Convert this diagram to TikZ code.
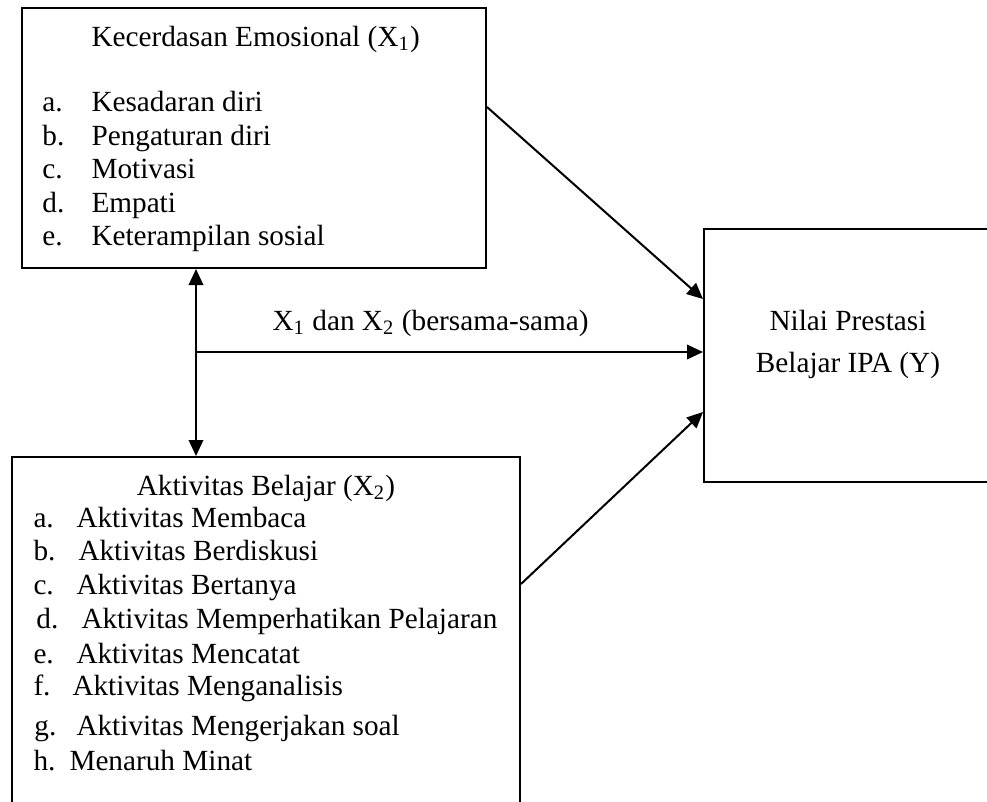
\documentclass[tikz,border=0pt]{standalone}
\usepackage{fontspec}
\setmainfont{Liberation Serif}
\usetikzlibrary{arrows.meta,calc}
\begin{document}
\begin{tikzpicture}[x=0.4pt,y=-0.4pt,
  box/.style={draw,line width=0.8pt,rectangle,inner sep=0pt},
  txt/.style={anchor=base west,inner sep=0pt,font=\fontsize{11.7}{14}\selectfont},
  ctxt/.style={anchor=base,inner sep=0pt,font=\fontsize{11.7}{14}\selectfont},
  conn/.style={line width=0.8pt,-{Triangle[length=6.4pt,width=5.8pt]}},
  dconn/.style={line width=0.8pt,{Triangle[length=6.4pt,width=5.8pt]}-{Triangle[length=6.4pt,width=5.8pt]}}]
\useasboundingbox (0,0) rectangle (987,801);
\clip (0,0) rectangle (987,801);
% boxes
\node[box,minimum width=185.6pt,minimum height=104pt] (top) at (254,138) {};
\node[box,minimum width=115.2pt,minimum height=101.2pt] (right) at (848,355.5) {};
\node[box,minimum width=203.2pt,minimum height=177.2pt] (bot) at (266,678.5) {};
% top box text
\node[txt] (t0) at (91,46) {Kecerdasan Emosional (X\textsubscript{1})};
\node[txt] (ta) at (42,111) {a.};
\node[txt] (tat) at (91,111) {Kesadaran diri};
\node[txt] (tb) at (42,145) {b.};
\node[txt] (tbt) at (91,145) {Pengaturan diri};
\node[txt] (tc) at (42,178) {c.};
\node[txt] (tct) at (91,178) {Motivasi};
\node[txt] (td) at (42,212) {d.};
\node[txt] (tdt) at (91,212) {Empati};
\node[txt] (te) at (42,245) {e.};
\node[txt] (tet) at (91,245) {Keterampilan sosial};
% right box text
\node[ctxt] (r1) at (848,330) {Nilai Prestasi};
\node[ctxt] (r2) at (848,372) {Belajar IPA (Y)};
% bottom box text
\node[ctxt] (b0) at (266,495) {Aktivitas Belajar (X\textsubscript{2})};
\node[txt] (ba) at (33,527) {a.};
\node[txt] (bat) at (76,527) {Aktivitas Membaca};
\node[txt] (bb) at (33,560) {b.};
\node[txt] (bbt) at (78,560) {Aktivitas Berdiskusi};
\node[txt] (bc) at (33,594) {c.};
\node[txt] (bct) at (76,594) {Aktivitas Bertanya};
\node[txt] (bd) at (36,628) {d.};
\node[txt] (bdt) at (81,628) {Aktivitas Memperhatikan Pelajaran};
\node[txt] (be) at (33,663) {e.};
\node[txt] (bet) at (76,663) {Aktivitas Mencatat};
\node[txt] (bf) at (33,695) {f.};
\node[txt] (bft) at (72,695) {Aktivitas Menganalisis};
\node[txt] (bg) at (34,735) {g.};
\node[txt] (bgt) at (76,735) {Aktivitas Mengerjakan soal};
\node[txt] (bh) at (33,770) {h.};
\node[txt] (bht) at (69,770) {Menaruh Minat};
% label
\node[txt] (lbl) at (272,330) {X\textsubscript{1} dan X\textsubscript{2} (bersama-sama)};
% connectors
\coordinate (j) at (196,352);
\draw[dconn] (top.south -| j) -- (bot.north -| j);
\draw[conn] (j) -- (j -| right.west);
\draw[conn] ($(top.north east)+(0,100)$) -- ($(right.north west)+(0,71)$);
\draw[conn] ($(bot.north east)+(0,128)$) -- ($(right.north west)+(0,184)$);
\end{tikzpicture}
\end{document}
